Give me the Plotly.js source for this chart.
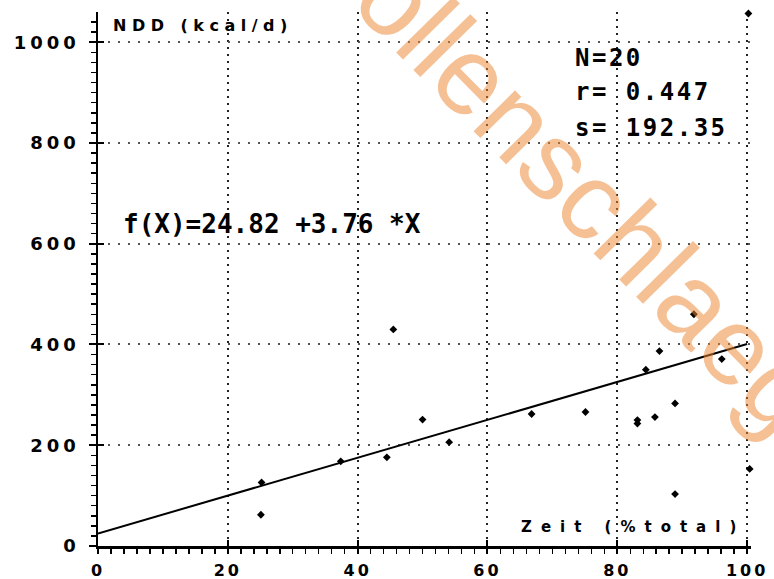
<!DOCTYPE html>
<html>
<head>
<meta charset="utf-8">
<script src="https://cdn.plot.ly/plotly-3.0.1.min.js"></script>
<style>
  html, body { margin: 0; padding: 0; background: #fff; }
  #chart { width: 774px; height: 579px; }
  .ytick text { letter-spacing: 4px; }
  .xtick text { letter-spacing: 3px; }
</style>
</head>
<body>
<div id="chart"></div>
<script>
// Zeit (% of total) vs. NDD (kcal/d), 20 observations
const zeitPct = [25.1, 25.2, 37.4, 44.5, 45.5, 50.0, 54.1, 66.8, 75.1, 83.1,
                 83.1, 84.4, 85.8, 86.5, 88.9, 88.9, 91.8, 96.1, 100.4, 100.2];
const nddKcal = [62, 126, 168, 176, 430, 251, 206, 262, 266, 250,
                 243, 350, 256, 387, 283, 103, 460, 371, 153, 1057];

// regression f(X) = a + b*X and its summary statistics
const intercept = 24.82;
const slope = 3.76;
const nObs = 20;
const corrR = 0.447;
const stdErr = 192.35;

const xTicks = [0, 20, 40, 60, 80, 100];
const yTicks = [0, 200, 400, 600, 800, 1000];

const xRange = [0, 100.6];
const yRange = [0, 1060];

const fitX = [0, 100];
const fitY = fitX.map(x => intercept + slope * x);

const mono = 'DejaVu Sans Mono, monospace';
const sansBold = 'DejaVu Sans, sans-serif';

const traces = [
  {
    x: zeitPct, y: nddKcal, type: 'scatter', mode: 'markers',
    marker: { symbol: 'diamond', size: 6, color: '#000' },
    cliponaxis: false, hoverinfo: 'skip'
  },
  {
    x: fitX, y: fitY, type: 'scatter', mode: 'lines',
    xaxis: 'x2', yaxis: 'y2',
    line: { color: '#000', width: 2 }, hoverinfo: 'skip'
  }
];

const layout = {
  width: 774, height: 579,
  margin: { l: 98, r: 23, t: 12, b: 33 },
  paper_bgcolor: '#fff', plot_bgcolor: '#fff',
  showlegend: false,
  xaxis: {
    range: xRange, tickvals: xTicks, ticktext: xTicks.map(String),
    showline: true, linecolor: '#000', linewidth: 2.5,
    ticks: 'inside', ticklen: 6, tickwidth: 2, tickcolor: '#000',
    ticklabelstandoff: 8,
    minor: { dtick: 2, ticks: 'outside', ticklen: 5, tickwidth: 1.5, tickcolor: '#000', showgrid: false },
    showgrid: true, gridcolor: '#222', gridwidth: 2, griddash: '2px,5px',
    zeroline: false,
    tickfont: { family: sansBold, size: 16, color: '#000', weight: 'bold' }
  },
  yaxis: {
    range: yRange, tickvals: yTicks, ticktext: yTicks.map(String),
    showline: true, linecolor: '#000', linewidth: 2.5,
    ticks: 'inside', ticklen: 6, tickwidth: 2, tickcolor: '#000',
    ticklabelstandoff: 12,
    minor: { dtick: 20, ticks: 'outside', ticklen: 5, tickwidth: 1.5, tickcolor: '#000', showgrid: false },
    showgrid: true, gridcolor: '#555', gridwidth: 2, griddash: '2px,8px',
    zeroline: false,
    tickfont: { family: sansBold, size: 18, color: '#000', weight: 'bold' }
  },
  // companion axes carry the outer half of the major ticks and the fitted line
  xaxis2: {
    overlaying: 'x', anchor: 'y2', range: xRange, side: 'bottom',
    tickvals: xTicks, ticks: 'outside', ticklen: 7, tickwidth: 2, tickcolor: '#000',
    showticklabels: false, showgrid: false, zeroline: false, showline: false
  },
  yaxis2: {
    overlaying: 'y', anchor: 'x2', range: yRange, side: 'left',
    tickvals: yTicks, ticks: 'outside', ticklen: 8, tickwidth: 2, tickcolor: '#000',
    showticklabels: false, showgrid: false, zeroline: false, showline: false
  },
  annotations: [
    {
      text: 'Wollenschlaeger', xref: 'x', yref: 'y', x: 75.6, y: 700,
      showarrow: false, textangle: 45.5, xanchor: 'center', yanchor: 'middle',
      font: { family: 'Liberation Sans, Arial, sans-serif', size: 110, color: 'rgba(236,135,50,0.52)' }
    },
    {
      text: 'NDD (kcal/d)', xref: 'x', yref: 'y', x: 2.0, y: 1034,
      showarrow: false, xanchor: 'left', yanchor: 'middle', align: 'left',
      font: { family: sansBold, size: 16, color: '#000', weight: 'bold' }
    },
    {
      text: 'Zeit (%total)', xref: 'x', yref: 'y', x: 64.9, y: 38,
      showarrow: false, xanchor: 'left', yanchor: 'middle', align: 'left',
      font: { family: sansBold, size: 15, color: '#000', weight: 'bold' }
    },
    {
      text: 'f(X)=' + intercept.toFixed(2) + ' +' + slope.toFixed(2) + ' *X',
      xref: 'x', yref: 'y', x: 3.6, y: 639,
      showarrow: false, xanchor: 'left', yanchor: 'middle', align: 'left',
      font: { family: mono, size: 26, color: '#000', weight: 'bold' }
    },
    {
      text: 'N=' + nObs, xref: 'x', yref: 'y', x: 73.1, y: 968,
      showarrow: false, xanchor: 'left', yanchor: 'middle', align: 'left',
      font: { family: mono, size: 24, color: '#000', weight: 'bold' }
    },
    {
      text: 'r= ' + corrR.toFixed(3), xref: 'x', yref: 'y', x: 73.1, y: 901,
      showarrow: false, xanchor: 'left', yanchor: 'middle', align: 'left',
      font: { family: mono, size: 24, color: '#000', weight: 'bold' }
    },
    {
      text: 's= ' + stdErr.toFixed(2), xref: 'x', yref: 'y', x: 73.1, y: 829,
      showarrow: false, xanchor: 'left', yanchor: 'middle', align: 'left',
      font: { family: mono, size: 24, color: '#000', weight: 'bold' }
    }
  ]
};

// per-label letter spacing, mimicking the wide plotter lettering
const spacing = { 1: 5.5, 2: 9, 3: 0, 4: 2.5, 5: 2.5, 6: 2.5 };

Plotly.newPlot('chart', traces, layout, { staticPlot: true }).then(gd => {
  gd.querySelectorAll('.annotation').forEach(g => {
    const idx = g.getAttribute('data-index');
    const t = g.querySelector('text');
    if (t && spacing[idx] !== undefined) t.style.letterSpacing = spacing[idx] + 'px';
  });
});
</script>
</body>
</html>
